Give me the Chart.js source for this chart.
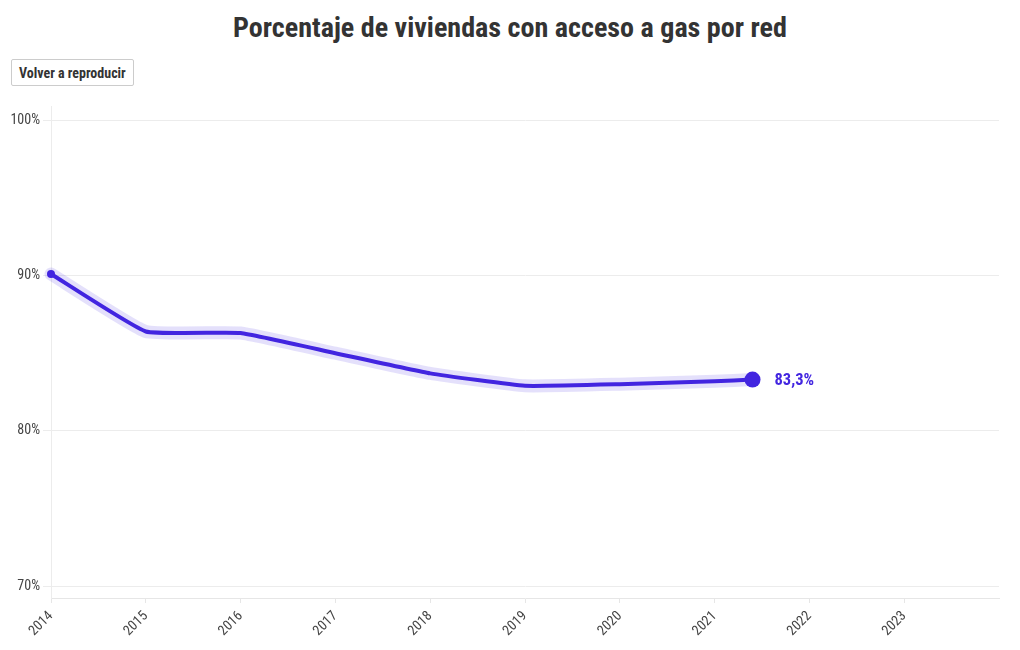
<!DOCTYPE html>
<html>
<head>
<meta charset="utf-8">
<script src="https://cdn.jsdelivr.net/npm/chart.js@4"></script>
<style>
  html, body { margin: 0; padding: 0; background: #fff; }
  body { width: 1020px; height: 650px; position: relative; overflow: hidden;
         font-family: "Roboto Condensed", "Liberation Sans Narrow", "DejaVu Sans Condensed", sans-serif; }
  h1 { position: absolute; top: 11px; left: 0; width: 1020px; margin: 0; text-align: center;
       font-size: 28.1px; font-weight: bold; color: #333; }
  button { position: absolute; left: 11px; top: 59px; height: 27px; padding: 0 7px;
           background: #fff; border: 1px solid #ccc; border-radius: 2px; font-family: inherit;
           font-size: 14px; font-weight: bold; color: #333; }
  #wrap { position: absolute; left: 0; top: 95px; width: 1020px; height: 555px; }
</style>
</head>
<body>
<h1>Porcentaje de viviendas con acceso a gas por red</h1>
<button>Volver a reproducir</button>
<div id="wrap"><canvas id="chart"></canvas></div>
<script>
  // data
  const years = [2014, 2015, 2016, 2017, 2018, 2019, 2020, 2021, 2021.4];
  const values = [90.1, 86.4, 86.3, 85.0, 83.7, 82.9, 83.0, 83.2, 83.3];
  const xTicks = [2014, 2015, 2016, 2017, 2018, 2019, 2020, 2021, 2022, 2023];
  const yTicks = [70, 80, 90, 100];
  const endLabel = '83,3%';

  const font = '"Roboto Condensed", "Liberation Sans Narrow", "DejaVu Sans Condensed", sans-serif';
  const purple = '#4326e0';
  const points = years.map((y, i) => ({ x: y, y: values[i] }));

  const labelPlugin = {
    id: 'endLabel',
    afterDatasetsDraw(chart) {
      const meta = chart.getDatasetMeta(1);
      const last = meta.data[meta.data.length - 1];
      const ctx = chart.ctx;
      ctx.save();
      ctx.font = 'bold 16.5px ' + font;
      ctx.fillStyle = purple;
      ctx.textBaseline = 'middle';
      ctx.fillText(endLabel, last.x + 22, last.y + 1);
      ctx.restore();
    }
  };

  new Chart(document.getElementById('chart'), {
    type: 'line',
    data: {
      datasets: [{
        data: points,
        borderColor: 'rgba(67, 38, 224, 0.14)',
        borderWidth: 13,
        borderCapStyle: 'round',
        borderJoinStyle: 'round',
        tension: 0.12,
        pointRadius: 0,
        clip: false
      }, {
        data: points,
        borderColor: purple,
        borderWidth: 4,
        tension: 0.12,
        pointRadius: points.map((p, i) => i === 0 ? 4 : (i === points.length - 1 ? 8 : 0)),
        pointBackgroundColor: purple,
        pointBorderWidth: 0,
        clip: false
      }]
    },
    options: {
      responsive: true,
      maintainAspectRatio: false,
      animation: false,
      layout: { padding: { top: 10, right: 21, left: 0, bottom: 0 } },
      plugins: { legend: { display: false }, tooltip: { enabled: false } },
      scales: {
        x: {
          type: 'linear',
          min: 2014,
          max: 2024,
          afterBuildTicks: s => { s.ticks = xTicks.map(v => ({ value: v })); },
          afterFit: s => { s.height = 52; },
          grid: { drawOnChartArea: false, drawTicks: true, tickLength: 5, color: '#e6e6e6' },
          border: { color: '#e6e6e6' },
          ticks: {
            minRotation: 45, maxRotation: 45, padding: 5,
            color: '#444', font: { family: font, size: 14 },
            callback: v => String(v)
          }
        },
        y: {
          min: 69.23,
          max: 100.9,
          afterBuildTicks: s => { s.ticks = yTicks.map(v => ({ value: v })); },
          afterFit: s => { s.width = 51; },
          grid: { color: '#ececec', tickLength: 8 },
          border: { color: '#ececec' },
          ticks: {
            padding: 3, color: '#444', font: { family: font, size: 14 },
            callback: v => v + '%'
          }
        }
      }
    },
    plugins: [labelPlugin]
  });
</script>
</body>
</html>
